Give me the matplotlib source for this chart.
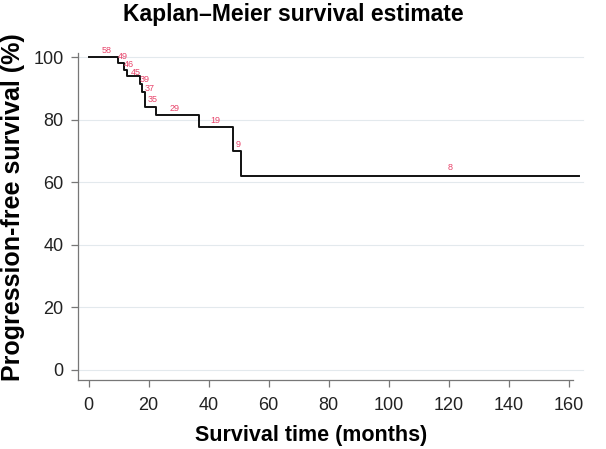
import numpy as np
import matplotlib
matplotlib.use('Agg')
import matplotlib.pyplot as plt

plt.rcParams['font.family'] = ['Liberation Sans', 'DejaVu Sans']

# Kaplan-Meier step curve (months, % progression-free)
times = [0, 9.8, 11.8, 12.9, 17.1, 17.7, 18.8, 22.6, 36.8, 48.1, 50.9, 163.6]
surv = [100, 98.0, 96.0, 93.8, 91.3, 88.9, 84.2, 81.6, 77.6, 69.9, 62.1, 62.1]

# numbers at risk printed along the curve
risk_n = ['58', '49', '46', '45', '39', '37', '35', '29', '19', '9', '8']
risk_t = [5.9, 11.6, 13.4, 15.7, 18.8, 20.4, 21.4, 28.6, 42.2, 50.0, 120.4]
risk_y = [102.1, 100.3, 97.6, 95.2, 92.8, 89.8, 86.3, 83.7, 79.6, 72.0, 64.8]

xticks = [0, 20, 40, 60, 80, 100, 120, 140, 160]
yticks = [0, 20, 40, 60, 80, 100]

fig = plt.figure(figsize=(6.06, 4.49), dpi=100)
ax = fig.add_axes([78 / 606, 1 - 380 / 449, 495 / 606, 327 / 449])

ax.set_xlim(-3.5, 161.5)
ax.set_ylim(-3.2, 101.3)

for y in yticks:
    ax.axhline(y, color='#e3e9ed', lw=0.8, zorder=0, xmax=1.02, clip_on=False)

ax.step(times, surv, where='post', color='#111111', lw=1.4, clip_on=False, zorder=3)

for n, t, y in zip(risk_n, risk_t, risk_y):
    ax.text(t, y, n, color='#e8456b', fontsize=6.5, ha='center', va='center',
            clip_on=False)

ax.spines['top'].set_visible(False)
ax.spines['right'].set_visible(False)
for s in ['left', 'bottom']:
    ax.spines[s].set_color('#777777')
    ax.spines[s].set_linewidth(0.9)

ax.set_xticks(xticks)
ax.set_yticks(yticks)
ax.tick_params(axis='both', colors='#777777', labelcolor='#222222', labelsize=13,
               length=5, width=0.9)
ax.tick_params(axis='x', pad=7)
ax.tick_params(axis='y', pad=5.5)

fig.text(293 / 606, 1 - 21 / 449, 'Kaplan\u2013Meier survival estimate',
         fontsize=16.5, fontweight='bold', ha='center', va='baseline')
fig.text(311 / 606, 1 - 441.5 / 449, 'Survival time (months)',
         fontsize=15.5, fontweight='bold', ha='center', va='baseline')
fig.text(13.5 / 606, 1 - 207.5 / 449, 'Progression-free survival (%)',
         fontsize=18, fontweight='bold', ha='center', va='center', rotation=90)

fig.savefig('out.png', dpi=100)
